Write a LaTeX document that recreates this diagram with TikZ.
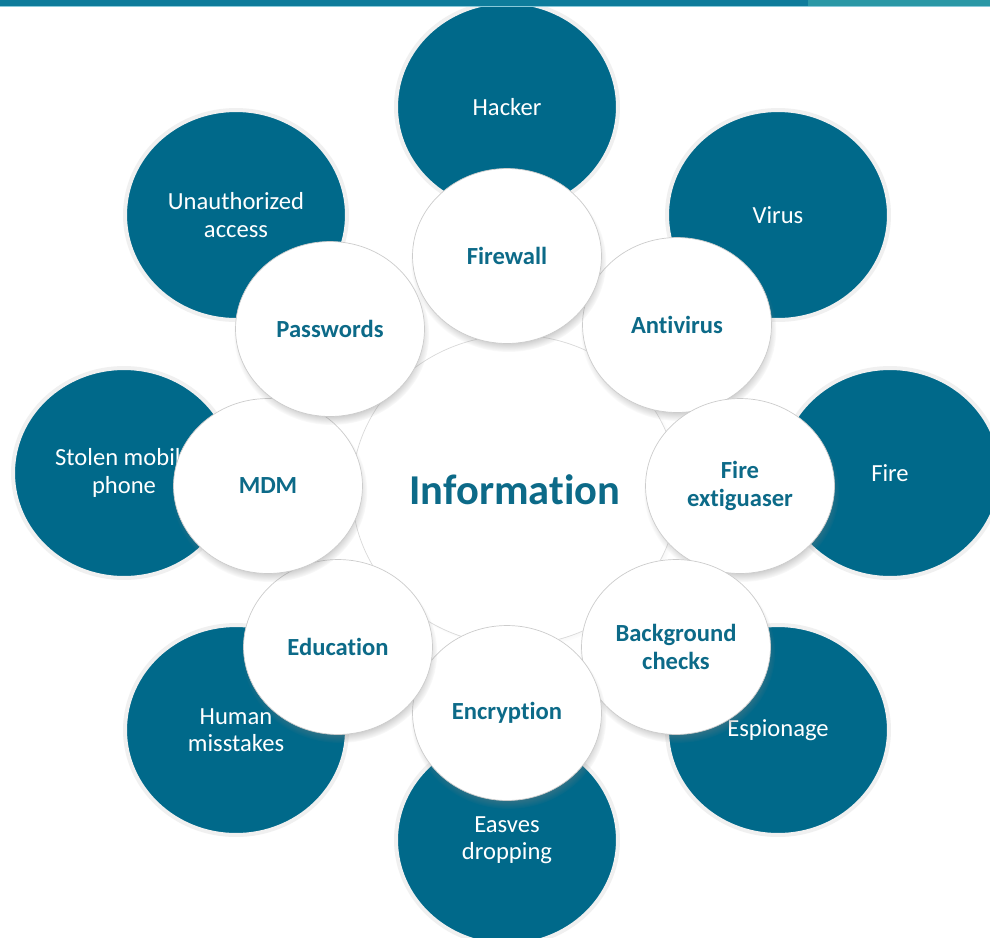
\documentclass[tikz,border=0pt]{standalone}
\usepackage{fontspec}
\setmainfont{Carlito}[Ligatures=NoCommon]
\usetikzlibrary{shapes.geometric,shadows}

\definecolor{infoteal}{HTML}{00698A}
\definecolor{labelteal}{HTML}{0C6A88}
\definecolor{ringgray}{HTML}{F0F0F0}
\definecolor{barteal}{HTML}{0E7C9B}
\definecolor{barlight}{HTML}{2A98A6}
\definecolor{barline}{HTML}{8ACADA}

\tikzset{
  threat/.style={ellipse, fill=infoteal, draw=ringgray, line width=0.08cm,
    minimum width=4.44cm, minimum height=4.2cm, inner sep=0pt,
    text=white, align=center, font=\fontsize{14}{15.5}\selectfont},
  guard/.style={ellipse, fill=white, draw=gray!40, line width=0.4pt,
    minimum width=3.78cm, minimum height=3.5cm, inner sep=0pt,
    text=labelteal, align=center, font=\fontsize{14}{15.5}\selectfont\bfseries,
    circular drop shadow={shadow scale=1.035, shadow xshift=0.8pt,
      shadow yshift=-3pt, opacity=0.55}},
}

\begin{document}
\begin{tikzpicture}[x=0.02cm,y=-0.02cm]

    \useasboundingbox (0,0) rectangle (990,937);
    \clip (0,0) rectangle (990,937);
    \fill[white] (0,0) rectangle (990,937);

    % threats
    \node[threat] (hacker) at (507,107) {Hacker};
    \node[threat] (virus) at (778,215) {Virus};
    \node[threat] (fire) at (890,473) {Fire};
    \node[threat] (espionage) at (778,730) {Espionage};
    \node[threat] (eaves) at (507,840) {Easves\\dropping};
    \node[threat] (human) at (236,730) {Human\\misstakes};
    \node[threat] (stolen) at (124,473) {Stolen mobile\\phone};
    \node[threat] (unauth) at (236,215) {Unauthorized\\access};

    % center
    \node[ellipse, fill=white, draw=gray!30, line width=0.4pt,
      minimum width=6.52cm, minimum height=6.2cm, inner sep=0pt,
      text=labelteal, font=\fontsize{24.2}{28}\selectfont\bfseries,
      circular drop shadow={shadow scale=1.01, shadow yshift=-1pt, opacity=0.25}]
      (info) at (515,490) {Information};

    % protections
    \node[guard] (antivirus) at (677,325) {Antivirus};
    \node[guard] (firewall) at (507,256) {Firewall};
    \node[guard] (extinguisher) at (740,486) {Fire\\extiguaser};
    \node[guard] (background) at (676,647) {Background\\checks};
    \node[guard] (encryption) at (507,713) {Encryption};
    \node[guard] (education) at (338,647) {Education};
    \node[guard] (mdm) at (268,486) {MDM};
    \node[guard] (passwords) at (330,329) {Passwords};

    % top bar
    \fill[barteal] (0,0) rectangle (808,6);
    \fill[barlight] (808,0) rectangle (990,6);
    \fill[barline] (0,6) rectangle (990,7);

\end{tikzpicture}
\end{document}
